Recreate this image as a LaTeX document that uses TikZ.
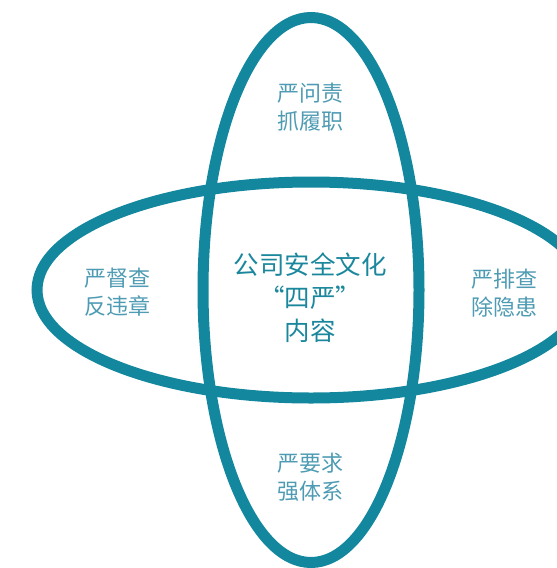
\documentclass[tikz,border=0pt]{standalone}
\usepackage{fontspec}
\setmainfont{Noto Sans CJK SC}
\usetikzlibrary{shapes.geometric}
\definecolor{ringteal}{HTML}{12879E}
\definecolor{midteal}{HTML}{1B879C}
\definecolor{sideteal}{HTML}{4E9BB3}

\begin{document}
\begin{tikzpicture}[x=1pt, y=-1pt, every text node part/.style={align=center},
  ring/.style={draw=ringteal, line width=11pt, ellipse, inner sep=0pt},
  sidelabel/.style={text=sideteal, font=\fontsize{22}{28}\selectfont},
  midlabel/.style={text=midteal, font=\fontsize{25.5}{33}\selectfont}]
\useasboundingbox (0,0) rectangle (557,568);
\draw
  node at (311,290)[ring, minimum width=548pt, minimum height=216pt](hring){}
  node at (311,290)[ring, minimum width=216pt, minimum height=545pt](vring){}
  node at (310,107)[sidelabel](top){严问责\\抓履职}
  node at (117,292)[sidelabel](left){严督查\\反违章}
  node at (504,293)[sidelabel](right){严排查\\除隐患}
  node at (310,477)[sidelabel](bottom){严要求\\强体系}
  node at (310,298)[midlabel](centre){公司安全文化\\“四严”\\内容};
\end{tikzpicture}
\end{document}
